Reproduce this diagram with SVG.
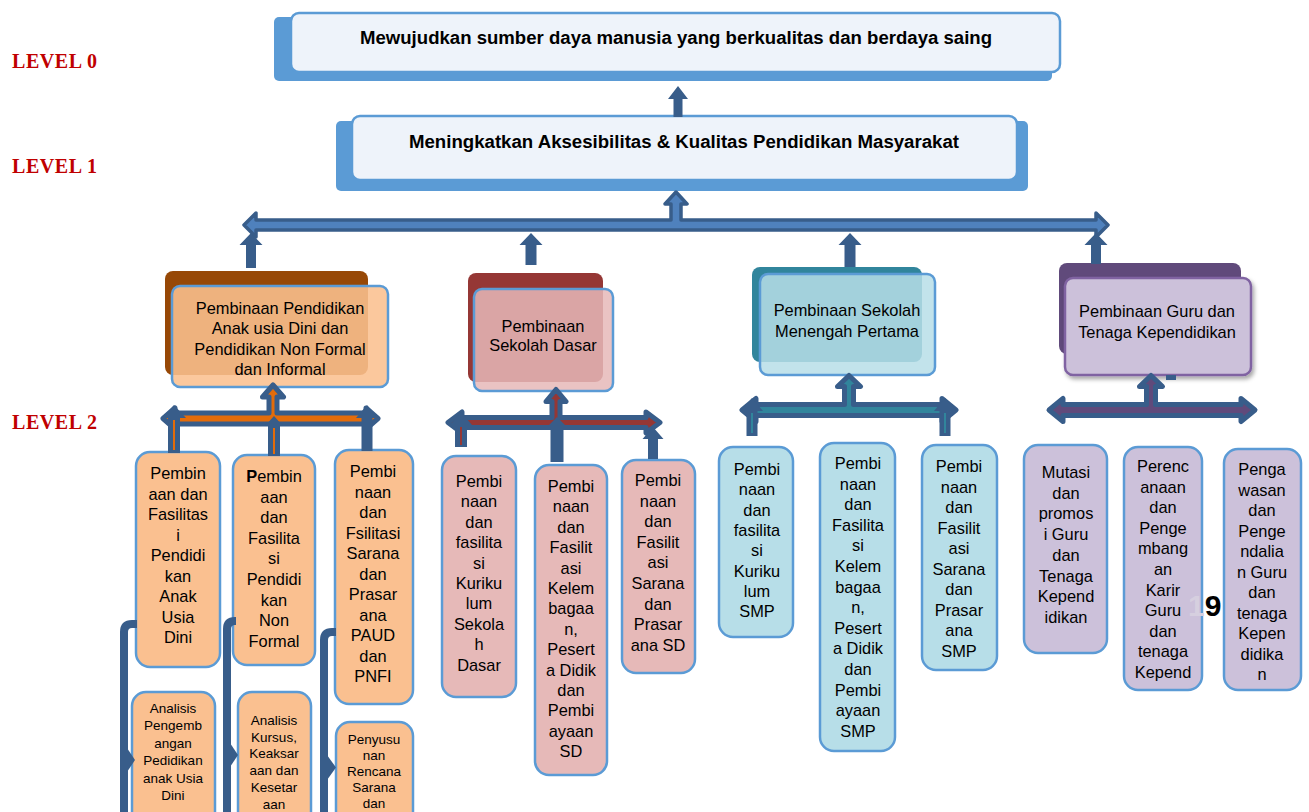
<svg xmlns="http://www.w3.org/2000/svg" width="1309" height="812" viewBox="0 0 1309 812">
<defs>
<style>
.lvl{font-family:"Liberation Serif","DejaVu Serif",serif;font-size:20px;font-weight:bold;fill:#c00000}
.ttl{font-family:"Liberation Sans",Arial,sans-serif;font-weight:bold;font-size:18px;fill:#000;text-anchor:middle}
.t{font-family:"Liberation Sans",Arial,sans-serif;font-size:16.4px;fill:#000;text-anchor:middle}
.s{font-size:13.5px}
.back0{fill:#5b9bd5}
.front0{fill:#eef3fa;stroke:#5b9bd5;stroke-width:2.5}
.arr{fill:#385d8a}
.tw{stroke:#385d8a;stroke-linejoin:round;stroke-width:5}
.bx{stroke:#5b9bd5;stroke-width:2.5}
.orng{fill:#fac090}.rose{fill:#e6b9b8}.cyan{fill:#b7dee8}.lav{fill:#ccc1da}
.elb{fill:none;stroke:#385d8a;stroke-width:8}
</style>
<filter id="sh" x="-10%" y="-10%" width="130%" height="130%"><feDropShadow dx="2" dy="3" stdDeviation="2" flood-color="#000" flood-opacity="0.35"/></filter>
</defs>

<g id="levels">
<text class="lvl" x="12" y="68" textLength="85" lengthAdjust="spacing">LEVEL 0</text>
<text class="lvl" x="12" y="173" textLength="85" lengthAdjust="spacing">LEVEL 1</text>
<text class="lvl" x="12" y="429" textLength="85" lengthAdjust="spacing">LEVEL 2</text>
</g>

<g id="level0">
<rect class="back0" x="274" y="17" width="778" height="64" rx="5"/>
<rect class="front0" x="291" y="13" width="769" height="59" rx="8"/>
<text class="ttl" x="676" y="44" textLength="632" lengthAdjust="spacingAndGlyphs">Mewujudkan sumber daya manusia yang berkualitas dan berdaya saing</text>
</g>

<g id="level1">
<rect class="back0" x="336" y="121" width="692" height="70" rx="5"/>
<rect class="front0" x="352" y="116" width="665" height="64" rx="8"/>
<text class="ttl" x="684" y="148" textLength="550" lengthAdjust="spacingAndGlyphs">Meningkatkan Aksesibilitas &amp; Kualitas Pendidikan Masyarakat</text>
</g>

<g id="paud">
<rect x="165" y="271" width="203" height="104" rx="8" fill="#974806"/>
<rect class="bx" x="172" y="286" width="216" height="101" rx="8" fill="#fac090" fill-opacity="0.88"/>
<text class="t"><tspan x="280" y="314">Pembinaan Pendidikan</tspan><tspan x="280" y="334">Anak usia Dini dan</tspan><tspan x="280" y="355">Pendidikan Non Formal</tspan><tspan x="280" y="375">dan Informal</tspan></text>
</g>

<g id="sd">
<rect x="468" y="273" width="135" height="109" rx="8" fill="#953735"/>
<rect class="bx" x="474" y="289" width="139" height="102" rx="8" fill="#e6b9b8" fill-opacity="0.85"/>
<text class="t"><tspan x="543" y="332">Pembinaan</tspan><tspan x="543" y="351">Sekolah Dasar</tspan></text>
</g>

<g id="smp">
<rect x="752" y="267" width="170" height="95" rx="8" fill="#31859c"/>
<rect class="bx" x="760" y="274" width="175" height="101" rx="8" fill="#b7dee8" fill-opacity="0.85"/>
<text class="t"><tspan x="847" y="316">Pembinaan Sekolah</tspan><tspan x="847" y="337">Menengah Pertama</tspan></text>
</g>

<g id="guru">
<rect x="1059" y="263" width="182" height="91" rx="8" fill="#604a7b"/>
<rect x="1065" y="278" width="186" height="97" rx="8" fill="#ccc1da" stroke="#8064a2" stroke-width="2.5" filter="url(#sh)"/>
<text class="t"><tspan x="1157" y="317">Pembinaan Guru dan</tspan><tspan x="1157" y="338">Tenaga Kependidikan</tspan></text>
</g>

<g id="paud-c1"><rect class="bx orng" x="136" y="452" width="84" height="215" rx="14"/>
<text class="t"><tspan x="178" y="479">Pembin</tspan><tspan x="178" dy="20.5">aan dan</tspan><tspan x="178" dy="20.5">Fasilitas</tspan><tspan x="178" dy="20.5">i</tspan><tspan x="178" dy="20.5">Pendidi</tspan><tspan x="178" dy="20.5">kan</tspan><tspan x="178" dy="20.5">Anak</tspan><tspan x="178" dy="20.5">Usia</tspan><tspan x="178" dy="20.5">Dini</tspan></text></g>
<g id="paud-c2"><rect class="bx orng" x="233" y="455" width="82" height="210" rx="14"/>
<text class="t"><tspan x="274" y="482"><tspan font-weight="bold">P</tspan>embin</tspan><tspan x="274" dy="20.6">aan</tspan><tspan x="274" dy="20.6">dan</tspan><tspan x="274" dy="20.6">Fasilita</tspan><tspan x="274" dy="20.6">si</tspan><tspan x="274" dy="20.6">Pendidi</tspan><tspan x="274" dy="20.6">kan</tspan><tspan x="274" dy="20.6">Non</tspan><tspan x="274" dy="20.6">Formal</tspan></text></g>
<g id="paud-c3"><rect class="bx orng" x="335" y="450" width="78" height="254" rx="14"/>
<text class="t"><tspan x="373" y="477">Pembi</tspan><tspan x="373" dy="20.5">naan</tspan><tspan x="373" dy="20.5">dan</tspan><tspan x="373" dy="20.5">Fsilitasi</tspan><tspan x="373" dy="20.5">Sarana</tspan><tspan x="373" dy="20.5">dan</tspan><tspan x="373" dy="20.5">Prasar</tspan><tspan x="373" dy="20.5">ana</tspan><tspan x="373" dy="20.5">PAUD</tspan><tspan x="373" dy="20.5">dan</tspan><tspan x="373" dy="20.5">PNFI</tspan></text></g>
<g id="paud-a1"><rect class="bx orng" x="132" y="692" width="83" height="140" rx="14"/>
<text class="t s"><tspan x="173" y="713">Analisis</tspan><tspan x="173" dy="17.4">Pengemb</tspan><tspan x="173" dy="17.4">angan</tspan><tspan x="173" dy="17.4">Pedidikan</tspan><tspan x="173" dy="17.4">anak Usia</tspan><tspan x="173" dy="17.4">Dini</tspan></text></g>
<g id="paud-a2"><rect class="bx orng" x="238" y="692" width="73" height="140" rx="14"/>
<text class="t s"><tspan x="274" y="725">Analisis</tspan><tspan x="274" dy="16.7">Kursus,</tspan><tspan x="274" dy="16.7">Keaksar</tspan><tspan x="274" dy="16.7">aan dan</tspan><tspan x="274" dy="16.7">Kesetar</tspan><tspan x="274" dy="16.7">aan</tspan></text></g>
<g id="paud-a3"><rect class="bx orng" x="336" y="722" width="77" height="110" rx="14"/>
<text class="t s"><tspan x="374" y="744">Penyusu</tspan><tspan x="374" dy="16">nan</tspan><tspan x="374" dy="16">Rencana</tspan><tspan x="374" dy="16">Sarana</tspan><tspan x="374" dy="16">dan</tspan></text></g>

<g id="sd-c1"><rect class="bx rose" x="442" y="456" width="74" height="241" rx="14"/>
<text class="t"><tspan x="479" y="487">Pembi</tspan><tspan x="479" dy="20.4">naan</tspan><tspan x="479" dy="20.4">dan</tspan><tspan x="479" dy="20.4">fasilita</tspan><tspan x="479" dy="20.4">si</tspan><tspan x="479" dy="20.4">Kuriku</tspan><tspan x="479" dy="20.4">lum</tspan><tspan x="479" dy="20.4">Sekola</tspan><tspan x="479" dy="20.4">h</tspan><tspan x="479" dy="20.4">Dasar</tspan></text></g>
<g id="sd-c2"><rect class="bx rose" x="535" y="465" width="72" height="310" rx="14"/>
<text class="t"><tspan x="571" y="492">Pembi</tspan><tspan x="571" dy="20.4">naan</tspan><tspan x="571" dy="20.4">dan</tspan><tspan x="571" dy="20.4">Fasilit</tspan><tspan x="571" dy="20.4">asi</tspan><tspan x="571" dy="20.4">Kelem</tspan><tspan x="571" dy="20.4">bagaa</tspan><tspan x="571" dy="20.4">n,</tspan><tspan x="571" dy="20.4">Pesert</tspan><tspan x="571" dy="20.4">a Didik</tspan><tspan x="571" dy="20.4">dan</tspan><tspan x="571" dy="20.4">Pembi</tspan><tspan x="571" dy="20.4">ayaan</tspan><tspan x="571" dy="20.4">SD</tspan></text></g>
<g id="sd-c3"><rect class="bx rose" x="622" y="460" width="73" height="213" rx="14"/>
<text class="t"><tspan x="658" y="486">Pembi</tspan><tspan x="658" dy="20.6">naan</tspan><tspan x="658" dy="20.6">dan</tspan><tspan x="658" dy="20.6">Fasilit</tspan><tspan x="658" dy="20.6">asi</tspan><tspan x="658" dy="20.6">Sarana</tspan><tspan x="658" dy="20.6">dan</tspan><tspan x="658" dy="20.6">Prasar</tspan><tspan x="658" dy="20.6">ana SD</tspan></text></g>

<g id="smp-c1"><rect class="bx cyan" x="719" y="447" width="74" height="190" rx="14"/>
<text class="t"><tspan x="757" y="475">Pembi</tspan><tspan x="757" dy="20.3">naan</tspan><tspan x="757" dy="20.3">dan</tspan><tspan x="757" dy="20.3">fasilita</tspan><tspan x="757" dy="20.3">si</tspan><tspan x="757" dy="20.3">Kuriku</tspan><tspan x="757" dy="20.3">lum</tspan><tspan x="757" dy="20.3">SMP</tspan></text></g>
<g id="smp-c2"><rect class="bx cyan" x="820" y="443" width="75" height="308" rx="14"/>
<text class="t"><tspan x="858" y="469">Pembi</tspan><tspan x="858" dy="20.6">naan</tspan><tspan x="858" dy="20.6">dan</tspan><tspan x="858" dy="20.6">Fasilita</tspan><tspan x="858" dy="20.6">si</tspan><tspan x="858" dy="20.6">Kelem</tspan><tspan x="858" dy="20.6">bagaa</tspan><tspan x="858" dy="20.6">n,</tspan><tspan x="858" dy="20.6">Pesert</tspan><tspan x="858" dy="20.6">a Didik</tspan><tspan x="858" dy="20.6">dan</tspan><tspan x="858" dy="20.6">Pembi</tspan><tspan x="858" dy="20.6">ayaan</tspan><tspan x="858" dy="20.6">SMP</tspan></text></g>
<g id="smp-c3"><rect class="bx cyan" x="922" y="445" width="75" height="225" rx="14"/>
<text class="t"><tspan x="959" y="472">Pembi</tspan><tspan x="959" dy="20.5">naan</tspan><tspan x="959" dy="20.5">dan</tspan><tspan x="959" dy="20.5">Fasilit</tspan><tspan x="959" dy="20.5">asi</tspan><tspan x="959" dy="20.5">Sarana</tspan><tspan x="959" dy="20.5">dan</tspan><tspan x="959" dy="20.5">Prasar</tspan><tspan x="959" dy="20.5">ana</tspan><tspan x="959" dy="20.5">SMP</tspan></text></g>

<g id="guru-c1"><rect class="bx lav" x="1024" y="445" width="83" height="208" rx="14"/>
<text class="t"><tspan x="1066" y="478">Mutasi</tspan><tspan x="1066" dy="20.7">dan</tspan><tspan x="1066" dy="20.7">promos</tspan><tspan x="1066" dy="20.7">i Guru</tspan><tspan x="1066" dy="20.7">dan</tspan><tspan x="1066" dy="20.7">Tenaga</tspan><tspan x="1066" dy="20.7">Kepend</tspan><tspan x="1066" dy="20.7">idikan</tspan></text></g>
<g id="guru-c2"><rect class="bx lav" x="1124" y="447" width="78" height="243" rx="14"/>
<text class="t"><tspan x="1163" y="472">Perenc</tspan><tspan x="1163" dy="20.6">anaan</tspan><tspan x="1163" dy="20.6">dan</tspan><tspan x="1163" dy="20.6">Penge</tspan><tspan x="1163" dy="20.6">mbang</tspan><tspan x="1163" dy="20.6">an</tspan><tspan x="1163" dy="20.6">Karir</tspan><tspan x="1163" dy="20.6">Guru</tspan><tspan x="1163" dy="20.6">dan</tspan><tspan x="1163" dy="20.6">tenaga</tspan><tspan x="1163" dy="20.6">Kepend</tspan></text></g>
<g id="guru-c3"><rect class="bx lav" x="1224" y="449" width="77" height="241" rx="14"/>
<text class="t"><tspan x="1262" y="475">Penga</tspan><tspan x="1262" dy="20.5">wasan</tspan><tspan x="1262" dy="20.5">dan</tspan><tspan x="1262" dy="20.5">Penge</tspan><tspan x="1262" dy="20.5">ndalia</tspan><tspan x="1262" dy="20.5">n Guru</tspan><tspan x="1262" dy="20.5">dan</tspan><tspan x="1262" dy="20.5">tenaga</tspan><tspan x="1262" dy="20.5">Kepen</tspan><tspan x="1262" dy="20.5">didika</tspan><tspan x="1262" dy="20.5">n</tspan></text></g>

<g id="page-number"><text x="1188" y="616" font-family="Liberation Sans,Arial,sans-serif" font-size="30" font-weight="bold"><tspan fill="#d6cfdf">1</tspan><tspan fill="#000">9</tspan></text></g>

<g id="connectors">
<path class="arr" d="M678,86 L688,99 L682.5,99 L682.5,117 L673.5,117 L673.5,99 L668,99 Z"/>
<path d="M244,225 L256,213 L256,220 L671,220 L671,204 L665,204 L676,192 L687,204 L681,204 L681,220 L1096,220 L1096,213 L1108,225 L1096,237 L1096,230 L256,230 L256,237 Z" fill="#4f81bd" stroke="#385d8a" stroke-width="3.5" stroke-linejoin="round"/>
<path class="arr" d="M251,233 L262.5,245 L256,245 L256,268 L246,268 L246,245 L239.5,245 Z"/>
<path class="arr" d="M531,233 L542.5,245 L536.5,245 L536.5,265 L525.5,265 L525.5,245 L519.5,245 Z"/>
<path class="arr" d="M850,233 L861.5,245 L855.5,245 L855.5,267 L844.5,267 L844.5,245 L838.5,245 Z"/>
<path class="arr" d="M1096,233 L1107.5,245 L1101,245 L1101,264 L1091,264 L1091,245 L1084.5,245 Z"/>

<path class="tw" fill="#e46c0a" d="M163,418.5 L175,408 L175,413 L269,413 L269,397 L262.5,397 L273,385 L283.5,397 L277,397 L277,413 L366,413 L366,408 L378,418.5 L366,429 L366,424 L175,424 L175,429 Z"/>
<path class="arr" d="M174,405 L186,418 L180,418 L180,453 L168,453 L168,418 L162,418 Z"/>
<rect x="173" y="420" width="2" height="30" fill="#e46c0a"/>
<path class="arr" d="M274,416 L283,426 L280,426 L280,456 L268,456 L268,426 L265,426 Z"/>
<rect x="273" y="428" width="2" height="26" fill="#e46c0a"/>
<path class="arr" d="M367,405 L378,418 L372.5,418 L372.5,451 L361.5,451 L361.5,418 L356,418 Z"/>

<path class="tw" fill="#953735" d="M448,422.5 L462,412 L462,417.5 L552,417.5 L552,401.5 L546,401.5 L556,389.5 L566,401.5 L560,401.5 L560,417.5 L646,417.5 L646,412 L660,422.5 L646,433 L646,427.5 L462,427.5 L462,433 Z"/>
<path class="arr" d="M461,412 L472,425 L467,425 L467,447 L455,447 L455,425 L450,425 Z"/>
<rect x="460" y="427" width="2" height="18" fill="#953735"/>
<path class="arr" d="M557,417 L568,428 L563.5,428 L563.5,462 L550.5,462 L550.5,428 L546,428 Z"/>
<path class="arr" d="M653,427 L663.5,439 L658,439 L658,459 L648,459 L648,439 L642.5,439 Z"/>

<path class="tw" fill="#31859c" d="M742,410 L756,398.5 L756,404.5 L844.5,404.5 L844.5,386.5 L837.5,386.5 L849,375.5 L860.5,386.5 L853.5,386.5 L853.5,404.5 L942,404.5 L942,398.5 L956,410 L942,421.5 L942,415.5 L756,415.5 L756,421.5 Z"/>
<path class="arr" d="M752,398 L763,411 L757.5,411 L757.5,436 L746.5,436 L746.5,411 L741,411 Z"/>
<rect x="751" y="413" width="2" height="20" fill="#31859c"/>
<path class="arr" d="M945,398 L956,411 L950.5,411 L950.5,436 L939.5,436 L939.5,411 L934,411 Z"/>
<rect x="944" y="413" width="2" height="20" fill="#31859c"/>

<path class="tw" fill="#604a7b" d="M1049,410 L1063,398.5 L1063,404.5 L1146.5,404.5 L1146.5,386.5 L1139.5,386.5 L1151,375.5 L1162.5,386.5 L1155.5,386.5 L1155.5,404.5 L1241,404.5 L1241,398.5 L1255,410 L1241,421.5 L1241,415.5 L1063,415.5 L1063,421.5 Z"/>
<rect class="arr" x="1166" y="375" width="10" height="5"/>

<path class="elb" d="M124,812 V632 Q124,624 132,624 H137"/>
<path class="arr" d="M127,748 L135,760 L127,772 Z"/>
<path class="elb" d="M227,812 V629 Q227,621 235,621 H236"/>
<path class="arr" d="M230,743 L238,755 L230,767 Z"/>
<path class="elb" d="M324,812 V640 Q324,632 332,632 H336"/>
<path class="arr" d="M327,755 L336,767.5 L327,780 Z"/>
</g>
</svg>
